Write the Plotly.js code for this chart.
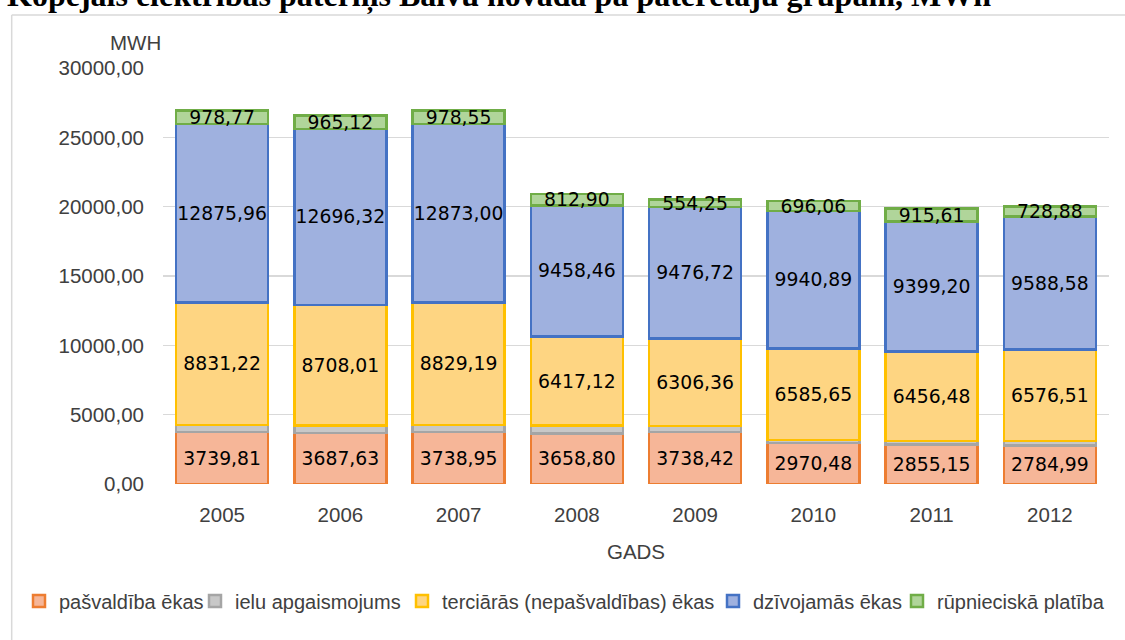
<!DOCTYPE html>
<html>
<head>
<meta charset="utf-8">
<script src="https://cdn.plot.ly/plotly-3.0.1.min.js"></script>
<style>html,body{margin:0;padding:0;background:#fff;}#chart{width:1125px;height:640px;}</style>
</head>
<body>
<div id="chart"></div>
<script>
// ---- data ----
var years = ['2005', '2006', '2007', '2008', '2009', '2010', '2011', '2012'];
var pasvaldibaEkas = [3739.81, 3687.63, 3738.95, 3658.80, 3738.42, 2970.48, 2855.15, 2784.99];
var ieluApgaismojums = [510, 515, 510, 560, 450, 200, 230, 330];
var terciarasEkas = [8831.22, 8708.01, 8829.19, 6417.12, 6306.36, 6585.65, 6456.48, 6576.51];
var dzivojamasEkas = [12875.96, 12696.32, 12873.00, 9458.46, 9476.72, 9940.89, 9399.20, 9588.58];
var rupnieciskaPlatiba = [978.77, 965.12, 978.55, 812.90, 554.25, 696.06, 915.61, 728.88];

var seriesNames = ['pašvaldība ēkas', 'ielu apgaismojums', 'terciārās (nepašvaldības) ēkas', 'dzīvojamās ēkas', 'rūpnieciskā platība'];
var yTicks = [0, 5000, 10000, 15000, 20000, 25000, 30000];

var titleText = 'Kopējais elektrības patēriņš Balvu novadā pa patērētāju grupām, MWh';
var xTitle = 'GADS';
var yTitle = 'MWH';

// ---- styling ----
var fills = ['#f6b698', '#c8c8c8', '#fed582', '#9fb1df', '#b0d59a'];
var lines = ['#ed7d31', '#a5a5a5', '#ffc000', '#4472c4', '#70ad47'];
var showLabels = [true, false, true, true, true];
var allSeries = [pasvaldibaEkas, ieluApgaismojums, terciarasEkas, dzivojamasEkas, rupnieciskaPlatiba];

function fmt(v) { return v.toFixed(2).replace('.', ','); }

// plot geometry (px)
var L = 163, R = 1109, T = 68, B = 484;
function px2x(p) { return (p - L) / (R - L); }
function px2y(p) { return (B - p) / (B - T); }

var legendTextStarts = [59, 235, 442, 753, 937];
var legendKeys = ['legend', 'legend2', 'legend3', 'legend4', 'legend5'];

var traces = allSeries.map(function (vals, i) {
  return {
    type: 'bar',
    name: seriesNames[i],
    x: years,
    y: vals,
    legend: legendKeys[i],
    marker: { color: fills[i], line: { color: lines[i], width: 2.5 } },
    text: showLabels[i] ? vals.map(fmt) : null,
    textposition: showLabels[i] ? 'inside' : 'none',
    insidetextanchor: 'middle',
    textangle: 0,
    constraintext: 'none',
    cliponaxis: false,
    textfont: { family: 'DejaVu Sans', size: 18.8, color: '#000000' },
    hoverinfo: 'none'
  };
});

var tickFont = { family: 'Liberation Sans, Arial', size: 20.5, color: '#404040' };
var layout = {
  width: 1125,
  height: 640,
  margin: { l: L, r: 1125 - R, t: T, b: 640 - B, pad: 0 },
  paper_bgcolor: '#ffffff',
  plot_bgcolor: '#ffffff',
  separators: ',.',
  barmode: 'stack',
  bargap: 0.22,
  showlegend: true,
  hovermode: false,
  xaxis: {
    type: 'category',
    showgrid: false,
    zeroline: false,
    showline: false,
    ticks: '',
    tickfont: tickFont,
    ticklabelstandoff: 16,
    title: { text: xTitle, font: tickFont, standoff: 20 }
  },
  yaxis: {
    range: [0, 30000],
    tickvals: yTicks,
    tickformat: '.2f',
    showgrid: true,
    gridcolor: '#d9d9d9',
    gridwidth: 1.5,
    zeroline: false,
    showline: false,
    ticks: '',
    tickfont: tickFont,
    ticklabelstandoff: 18
  },
  annotations: [
    {
      text: titleText, xref: 'paper', yref: 'paper',
      x: px2x(5), y: px2y(-4), xanchor: 'left', yanchor: 'middle',
      showarrow: false,
      font: { family: 'Liberation Serif, Times New Roman', size: 32, color: '#000000', weight: 'bold' }
    },
    {
      text: yTitle, xref: 'paper', yref: 'paper',
      x: px2x(163), y: px2y(42), xanchor: 'right', yanchor: 'middle',
      showarrow: false, font: tickFont
    }
  ],
  shapes: [
    { type: 'line', xref: 'paper', yref: 'paper', x0: px2x(11.7), x1: px2x(1130), y0: px2y(15), y1: px2y(15), line: { color: '#d9d9d9', width: 1.5 } },
    { type: 'line', xref: 'paper', yref: 'paper', x0: px2x(11.7), x1: px2x(11.7), y0: px2y(15), y1: px2y(645), line: { color: '#d9d9d9', width: 1.5 } }
  ]
};

legendKeys.forEach(function (k, i) {
  layout[k] = {
    x: px2x(legendTextStarts[i] - 40),
    y: px2y(601),
    xanchor: 'left',
    yanchor: 'middle',
    orientation: 'h',
    bgcolor: 'rgba(0,0,0,0)',
    borderwidth: 0,
    font: { family: 'Liberation Sans, Arial', size: 20, color: '#404040' }
  };
});

Plotly.newPlot('chart', traces, layout, { displayModeBar: false, staticPlot: true });
</script>
</body>
</html>
